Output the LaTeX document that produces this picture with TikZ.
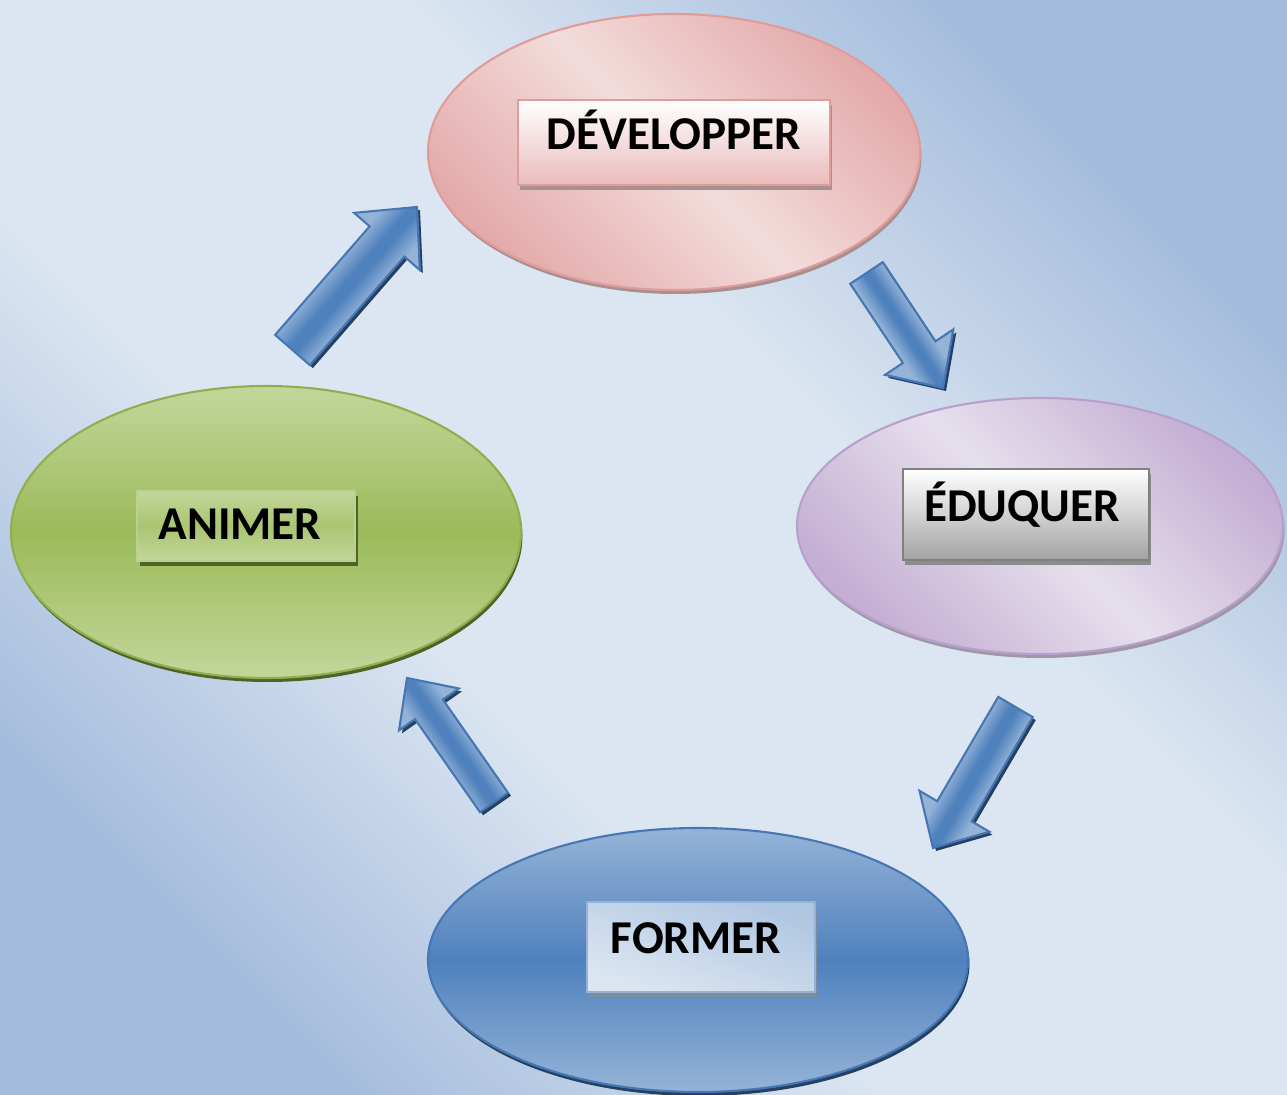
\documentclass[tikz,border=0pt]{standalone}
\usepackage{fontspec}
\setmainfont{Carlito}
\usetikzlibrary{shapes.geometric,shadows,calc}

\definecolor{bgdark}{HTML}{A4BCDC}
\definecolor{bglight}{HTML}{DCE6F2}
\definecolor{pinkdark}{HTML}{E4AAAA}
\definecolor{pinklight}{HTML}{F2DCDB}
\definecolor{pinkline}{HTML}{E09C9B}
\definecolor{pinkshadow}{HTML}{A89090}
\definecolor{purpledark}{HTML}{C4AED4}
\definecolor{purplelight}{HTML}{E6DFEC}
\definecolor{purpleline}{HTML}{B7A0CB}
\definecolor{purpleshadow}{HTML}{9E98A6}
\definecolor{greenlight}{HTML}{C3D69B}
\definecolor{greenmid}{HTML}{9BBB59}
\definecolor{greenline}{HTML}{8FAF4F}
\definecolor{greenshadow}{HTML}{4F6228}
\definecolor{bluelight}{HTML}{95B3D7}
\definecolor{bluemid}{HTML}{4F81BD}
\definecolor{blueline}{HTML}{4677B4}
\definecolor{blueshadow}{HTML}{254061}

\pgfdeclareverticalshading{bgshade}{100bp}{color(0bp)=(bgdark); color(25bp)=(bgdark);
  color(41bp)=(bglight); color(59bp)=(bglight); color(75bp)=(bgdark); color(100bp)=(bgdark)}
\pgfdeclareverticalshading{arrowshade}{100bp}{color(0bp)=(bluelight); color(41.5bp)=(bluelight);
  color(48.5bp)=(bluemid); color(51.5bp)=(bluemid); color(58.5bp)=(bluelight); color(100bp)=(bluelight)}

% block arrow: tail, tip, angle, half shaft width, half head width
\newcommand{\blockarrow}[5]{%
  \coordinate (hb) at ($(#2)!1.05*#5!(#1)$);
  \draw[arrowbody, shading angle=#3]
    ($(#1)!#4!90:(#2)$) -- ($(hb)!#4!90:(#2)$) -- ($(hb)!#5!90:(#2)$) -- (#2)
    -- ($(hb)!#5!-90:(#2)$) -- ($(hb)!#4!-90:(#2)$) -- ($(#1)!#4!-90:(#2)$) -- cycle;
}

\begin{document}
\begin{tikzpicture}
  \tikzset{stage/.style = {shape=ellipse, inner sep=0pt, line width=0.6pt}}
  \tikzset{labelbox/.style = {shape=rectangle, line width=0.8pt, text height=0.30cm, text depth=0.16cm,
      font=\bfseries\fontsize{13.4}{16}\selectfont}}
  \tikzset{arrowbody/.style = {draw=blueline, line width=0.6pt, shading=arrowshade,
      drop shadow={shadow xshift=0.03cm, shadow yshift=-0.03cm, fill=blueshadow, opacity=1}}}
  % Background
  \shade[shading=bgshade, shading angle=-45] (0,0) rectangle (12.87,-10.95);
  \useasboundingbox (0,0) rectangle (12.87,-10.95);
  % Draw the four stages
  \node[stage, minimum width=4.92cm, minimum height=2.76cm, draw=pinkline, top color=pinkdark, bottom color=pinkdark,
    middle color=pinklight, shading angle=-45,
    drop shadow={shadow xshift=0.015cm, shadow yshift=-0.04cm, fill=pinkshadow, opacity=1}] (D) at (6.74,-1.52) {};
  \node[stage, minimum width=4.86cm, minimum height=2.56cm, draw=purpleline, top color=purpledark, bottom color=purpledark,
    middle color=purplelight, shading angle=-45,
    drop shadow={shadow xshift=0.015cm, shadow yshift=-0.04cm, fill=purpleshadow, opacity=1}] (E) at (10.40,-5.26) {};
  \node[stage, minimum width=5.40cm, minimum height=2.64cm, draw=blueline, top color=bluelight, bottom color=bluelight,
    middle color=bluemid,
    drop shadow={shadow xshift=0.015cm, shadow yshift=-0.04cm, fill=blueshadow, opacity=1}] (F) at (6.98,-9.60) {};
  \node[stage, minimum width=5.10cm, minimum height=2.92cm, draw=greenline, top color=greenlight, bottom color=greenlight,
    middle color=greenmid,
    drop shadow={shadow xshift=0.015cm, shadow yshift=-0.04cm, fill=greenshadow, opacity=1}] (A) at (2.66,-5.32) {};
  % Labels
  \node[labelbox, minimum width=3.12cm, minimum height=0.85cm, draw=pinkline, top color=white, bottom color=pinkdark!80,
    drop shadow={shadow xshift=0.02cm, shadow yshift=-0.05cm, fill=pinkshadow, opacity=1}] (Dl) at (6.74,-1.425) {DÉVELOPPER};
  \node[labelbox, minimum width=2.46cm, minimum height=0.91cm, draw=black!50, top color=white, bottom color=black!36,
    drop shadow={shadow xshift=0.02cm, shadow yshift=-0.05cm, fill=black!45, opacity=1}] (El) at (10.26,-5.145) {ÉDUQUER\kern0.08cm};
  \node[labelbox, minimum width=2.28cm, minimum height=0.90cm, draw=bluelight, top color=bluelight!75, bottom color=bglight,
    shading angle=-20,
    drop shadow={shadow xshift=0.02cm, shadow yshift=-0.05cm, fill=blueshadow!60, opacity=1}] (Fl) at (7.01,-9.47) {FORMER\kern0.1cm};
  \node[labelbox, minimum width=2.18cm, minimum height=0.70cm, text depth=0.02cm, draw=greenlight!80!greenmid,
    top color=greenlight, bottom color=greenlight, middle color=greenmid!85!white,
    drop shadow={shadow xshift=0.03cm, shadow yshift=-0.05cm, fill=greenshadow, opacity=1}] (Al) at (2.46,-5.26) {ANIMER\kern0.12cm};
  % Arrows between the stages
  \coordinate (a1) at (2.925,-3.50);  \coordinate (b1) at (4.17,-2.07);
  \coordinate (a2) at (8.665,-2.73);  \coordinate (b2) at (9.43,-3.88);
  \coordinate (a3) at (10.155,-7.07); \coordinate (b3) at (9.33,-8.48);
  \coordinate (a4) at (4.94,-8.025);  \coordinate (b4) at (4.07,-6.78);
  \blockarrow{a1}{b1}{48.96}{0.23cm}{0.435cm}
  \blockarrow{a2}{b2}{-56.4}{0.195cm}{0.41cm}
  \blockarrow{a3}{b3}{-120.3}{0.20cm}{0.405cm}
  \blockarrow{a4}{b4}{124.95}{0.17cm}{0.365cm}
\end{tikzpicture}
\end{document}
